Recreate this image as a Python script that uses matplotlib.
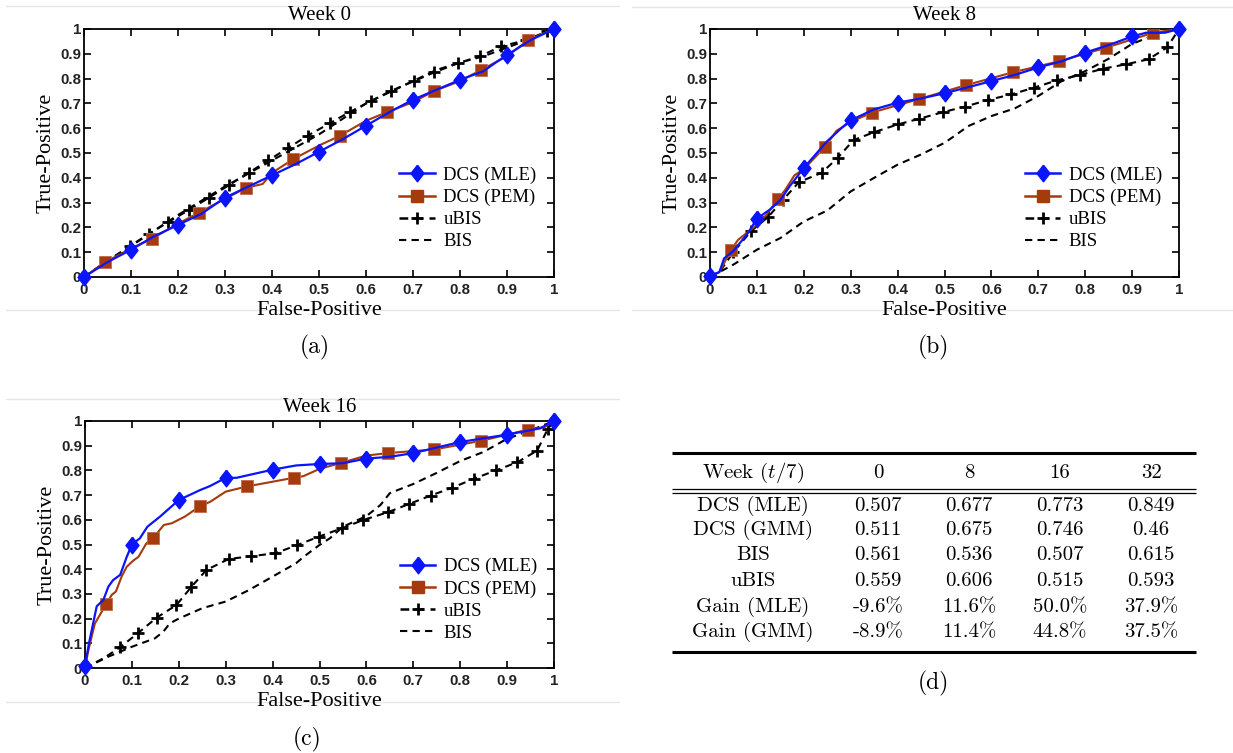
import matplotlib
matplotlib.use("Agg")
import matplotlib.pyplot as plt
from matplotlib.lines import Line2D

# ---------------- data ----------------
series_names = ["DCS (MLE)", "DCS (PEM)", "uBIS", "BIS"]
tick_vals = [0, 0.1, 0.2, 0.3, 0.4, 0.5, 0.6, 0.7, 0.8, 0.9, 1]
tick_labels = ["0", "0.1", "0.2", "0.3", "0.4", "0.5", "0.6", "0.7", "0.8", "0.9", "1"]
mle_marks = [0, 0.1, 0.2, 0.3, 0.4, 0.5, 0.6, 0.7, 0.8, 0.9, 1]
pem_marks = [0.045, 0.145, 0.245, 0.345, 0.445, 0.545, 0.645, 0.745, 0.845, 0.945]

# Week 0
w0_mle_fp = [0, 0.05, 0.1, 0.15, 0.2, 0.25, 0.3, 0.35, 0.4, 0.45, 0.5, 0.55, 0.6, 0.65, 0.7, 0.75, 0.8, 0.85, 0.88, 0.9, 0.95, 1]
w0_mle_tp = [0, 0.06, 0.11, 0.165, 0.21, 0.255, 0.32, 0.365, 0.41, 0.455, 0.505, 0.555, 0.61, 0.665, 0.715, 0.755, 0.795, 0.83, 0.87, 0.895, 0.955, 1]
w0_pem_fp = [0, 0.045, 0.1, 0.145, 0.2, 0.245, 0.3, 0.345, 0.38, 0.4, 0.445, 0.5, 0.545, 0.6, 0.645, 0.7, 0.745, 0.8, 0.845, 0.9, 0.945, 1]
w0_pem_tp = [0, 0.06, 0.115, 0.155, 0.215, 0.26, 0.315, 0.36, 0.375, 0.42, 0.475, 0.53, 0.57, 0.63, 0.665, 0.705, 0.75, 0.79, 0.835, 0.89, 0.955, 1]
w0_ubis_fp = [0, 0.05, 0.098, 0.139, 0.178, 0.223, 0.266, 0.308, 0.35, 0.392, 0.434, 0.476, 0.523, 0.565, 0.611, 0.653, 0.702, 0.745, 0.796, 0.842, 0.888, 0.94, 0.985, 1]
w0_ubis_tp = [0, 0.065, 0.125, 0.175, 0.22, 0.27, 0.32, 0.37, 0.42, 0.47, 0.52, 0.57, 0.62, 0.665, 0.71, 0.75, 0.79, 0.825, 0.862, 0.89, 0.93, 0.955, 0.99, 1]
w0_bis_fp = [0, 0.05, 0.1, 0.2, 0.3, 0.4, 0.5, 0.6, 0.7, 0.75, 0.8, 0.85, 0.9, 0.95, 1]
w0_bis_tp = [0, 0.065, 0.125, 0.25, 0.365, 0.47, 0.575, 0.7, 0.79, 0.835, 0.865, 0.89, 0.925, 0.96, 1]

# Week 8
w8_mle_fp = [0, 0.02, 0.03, 0.05, 0.08, 0.1, 0.13, 0.15, 0.17, 0.2, 0.25, 0.28, 0.3, 0.35, 0.4, 0.45, 0.5, 0.55, 0.6, 0.65, 0.7, 0.75, 0.8, 0.85, 0.9, 0.93, 0.97, 1]
w8_mle_tp = [0.005, 0.02, 0.075, 0.105, 0.175, 0.235, 0.275, 0.31, 0.366, 0.44, 0.548, 0.6, 0.632, 0.676, 0.703, 0.72, 0.741, 0.765, 0.79, 0.815, 0.845, 0.87, 0.905, 0.935, 0.97, 0.985, 0.985, 1]
w8_pem_fp = [0, 0.02, 0.045, 0.06, 0.1, 0.12, 0.145, 0.16, 0.18, 0.2, 0.245, 0.27, 0.3, 0.345, 0.445, 0.545, 0.645, 0.745, 0.845, 0.945, 1]
w8_pem_tp = [0, 0.02, 0.11, 0.15, 0.21, 0.25, 0.315, 0.35, 0.41, 0.435, 0.524, 0.59, 0.625, 0.663, 0.717, 0.773, 0.825, 0.87, 0.925, 0.985, 1]
w8_ubis_fp = [0, 0.02, 0.05, 0.087, 0.124, 0.156, 0.19, 0.238, 0.272, 0.306, 0.35, 0.4, 0.446, 0.497, 0.544, 0.593, 0.642, 0.69, 0.74, 0.788, 0.838, 0.888, 0.935, 0.975, 1]
w8_ubis_tp = [0, 0.02, 0.1, 0.184, 0.242, 0.312, 0.383, 0.42, 0.48, 0.552, 0.584, 0.615, 0.638, 0.665, 0.687, 0.714, 0.736, 0.763, 0.793, 0.814, 0.84, 0.858, 0.878, 0.926, 1]
w8_bis_fp = [0, 0.05, 0.1, 0.15, 0.2, 0.25, 0.3, 0.35, 0.4, 0.45, 0.5, 0.526, 0.55, 0.6, 0.65, 0.7, 0.75, 0.8, 0.85, 0.9, 0.96, 1]
w8_bis_tp = [0, 0.05, 0.11, 0.157, 0.224, 0.268, 0.345, 0.4, 0.453, 0.494, 0.541, 0.575, 0.608, 0.649, 0.68, 0.73, 0.79, 0.83, 0.88, 0.94, 0.985, 1]

# Week 16
w16_mle_fp = [0, 0.0085, 0.025, 0.039, 0.05, 0.06, 0.075, 0.089, 0.1, 0.117, 0.133, 0.16, 0.2, 0.245, 0.267, 0.3, 0.323, 0.4, 0.45, 0.5, 0.55, 0.6, 0.65, 0.7, 0.8, 0.9, 0.97, 1]
w16_mle_tp = [0.01, 0.1, 0.25, 0.275, 0.33, 0.356, 0.377, 0.45, 0.5, 0.525, 0.572, 0.613, 0.68, 0.72, 0.737, 0.77, 0.77, 0.803, 0.82, 0.826, 0.829, 0.848, 0.855, 0.87, 0.915, 0.945, 0.97, 1]
w16_pem_fp = [0, 0.007, 0.021, 0.045, 0.057, 0.066, 0.078, 0.089, 0.103, 0.114, 0.131, 0.145, 0.168, 0.185, 0.213, 0.245, 0.267, 0.3, 0.345, 0.445, 0.466, 0.5, 0.545, 0.6, 0.645, 0.745, 0.845, 0.945, 0.98, 1]
w16_pem_tp = [0, 0.07, 0.18, 0.258, 0.296, 0.31, 0.37, 0.41, 0.435, 0.45, 0.505, 0.525, 0.579, 0.586, 0.613, 0.655, 0.673, 0.714, 0.735, 0.77, 0.777, 0.806, 0.83, 0.86, 0.87, 0.885, 0.92, 0.965, 0.975, 1]
w16_ubis_fp = [0, 0.04, 0.075, 0.114, 0.153, 0.195, 0.227, 0.259, 0.306, 0.355, 0.405, 0.453, 0.499, 0.547, 0.593, 0.645, 0.691, 0.737, 0.783, 0.829, 0.876, 0.922, 0.964, 0.987, 1]
w16_ubis_tp = [0, 0.04, 0.084, 0.143, 0.204, 0.255, 0.329, 0.397, 0.441, 0.453, 0.464, 0.498, 0.532, 0.565, 0.599, 0.63, 0.664, 0.698, 0.73, 0.766, 0.8, 0.833, 0.88, 0.969, 1]
w16_bis_fp = [0, 0.05, 0.1, 0.149, 0.167, 0.181, 0.2, 0.25, 0.3, 0.35, 0.4, 0.45, 0.466, 0.5, 0.522, 0.55, 0.6, 0.63, 0.65, 0.7, 0.75, 0.8, 0.85, 0.9, 0.95, 0.98, 1]
w16_bis_tp = [0, 0.046, 0.086, 0.12, 0.147, 0.181, 0.2, 0.242, 0.269, 0.316, 0.37, 0.424, 0.45, 0.498, 0.525, 0.572, 0.615, 0.66, 0.708, 0.745, 0.79, 0.838, 0.875, 0.928, 0.962, 0.985, 1]

# Table (d)
table_header = ["Week ($t/7$)", "0", "8", "16", "32"]
table_rows = ["DCS (MLE)", "DCS (GMM)", "BIS", "uBIS", "Gain (MLE)", "Gain (GMM)"]
col_w0 = ["0.507", "0.511", "0.561", "0.559", "-9.6%", "-8.9%"]
col_w8 = ["0.677", "0.675", "0.536", "0.606", "11.6%", "11.4%"]
col_w16 = ["0.773", "0.746", "0.507", "0.515", "50.0%", "44.8%"]
col_w32 = ["0.849", "0.46", "0.615", "0.593", "37.9%", "37.5%"]

# ---------------- style ----------------
W, H = 1233, 753
plt.rcParams['mathtext.fontset'] = 'cm'
BLUE = "#0a14ff"
BROWN = "#a53a0c"
SERIF = "Liberation Serif"
SANS = "Liberation Sans"
CM = "cmr10"

diamond = [(0, 1), (0.78, 0), (0, -1), (-0.78, 0), (0, 1)]

fig = plt.figure(figsize=(W / 100, H / 100), dpi=100)

def px_axes(x0, y0, x1, y1):
    return fig.add_axes([x0 / W, 1 - y1 / H, (x1 - x0) / W, (y1 - y0) / H])

def idx_near(xs, marks):
    return [i for i, x in enumerate(xs) if any(abs(x - m) < 1e-9 for m in marks)]

def panel(ax, title, mle, pem, ubis, bis):
    ax.plot(bis[0], bis[1], color="black", lw=1.5, ls=(0, (3.5, 2.5)), zorder=2)
    ax.plot(ubis[0], ubis[1], color="black", lw=1.5, ls=(0, (3.5, 2.5)), marker="+",
            ms=8, mew=2.0, markevery=list(range(2, len(ubis[0]) - 1)), zorder=3)
    ax.plot(pem[0], pem[1], color=BROWN, lw=1.5, marker="s", ms=8.3, mfc=BROWN,
            mec="#c06a4a", mew=0.6, markevery=idx_near(pem[0], pem_marks), zorder=4)
    ax.plot(mle[0], mle[1], color=BLUE, lw=1.6, marker=diamond, ms=12, mfc=BLUE,
            mec=BLUE, markevery=idx_near(mle[0], mle_marks), zorder=5, clip_on=False)
    ax.set_xlim(0, 1)
    ax.set_ylim(0, 1)
    ax.set_xticks(tick_vals)
    ax.set_xticklabels(tick_labels)
    ax.set_yticks(tick_vals)
    ax.set_yticklabels(tick_labels)
    ax.tick_params(direction="in", length=5, width=1.2, top=True, right=True,
                   labelsize=10.8, pad=2)
    ax.tick_params(axis="x", pad=4)
    for lab in ax.get_xticklabels() + ax.get_yticklabels():
        lab.set_fontfamily(SANS)
        lab.set_fontweight("bold")
        lab.set_color("#222222")
    for sp in ax.spines.values():
        sp.set_linewidth(1.3)
    ax.set_title(title, fontfamily=SERIF, fontsize=15, pad=6.5)
    ax.set_xlabel("False-Positive", fontfamily=SERIF, fontsize=16, labelpad=3)
    ax.set_ylabel("True-Positive", fontfamily=SERIF, fontsize=16, labelpad=3)
    handles = [
        Line2D([], [], color=BLUE, lw=1.8, marker=diamond, ms=12, mfc=BLUE, mec=BLUE),
        Line2D([], [], color=BROWN, lw=1.8, marker="s", ms=8.3, mfc=BROWN, mec=BROWN),
        Line2D([], [], color="black", lw=1.8, ls=(0, (3.5, 2.5)), marker="+", ms=8, mew=2.0),
        Line2D([], [], color="black", lw=1.5, ls=(0, (3.5, 2.5))),
    ]
    ax.legend(handles, series_names, loc="upper left", bbox_to_anchor=(0.655, 0.475),
              frameon=False, numpoints=1, handlelength=1.9, handletextpad=0.45,
              labelspacing=0.26, borderaxespad=0,
              prop={"family": SERIF, "size": 13.5})

axA = px_axes(84, 29, 554, 277)
panel(axA, "Week 0", (w0_mle_fp, w0_mle_tp), (w0_pem_fp, w0_pem_tp),
      (w0_ubis_fp, w0_ubis_tp), (w0_bis_fp, w0_bis_tp))
axB = px_axes(710, 29, 1179, 277)
panel(axB, "Week 8", (w8_mle_fp, w8_mle_tp), (w8_pem_fp, w8_pem_tp),
      (w8_ubis_fp, w8_ubis_tp), (w8_bis_fp, w8_bis_tp))
axC = px_axes(85, 421, 554, 668)
panel(axC, "Week 16", (w16_mle_fp, w16_mle_tp), (w16_pem_fp, w16_pem_tp),
      (w16_ubis_fp, w16_ubis_tp), (w16_bis_fp, w16_bis_tp))

# overlay in pixel coordinates for separators, captions and the table
ov = fig.add_axes([0, 0, 1, 1], zorder=-1)
ov.set_xlim(0, W)
ov.set_ylim(H, 0)
ov.axis("off")
ov.patch.set_alpha(0)

sep_col = "#e6e6e6"
for (xa, xb, ya) in [(6, 619, 6), (6, 619, 310), (632, 1233, 7), (632, 1233, 310),
                     (6, 619, 399), (6, 619, 702)]:
    ov.plot([xa, xb], [ya, ya], color=sep_col, lw=1.0)

for (cx, cy, s) in [(315, 347, "(a)"), (933, 347, "(b)"), (307, 739, "(c)"), (933, 683, "(d)")]:
    ov.text(cx, cy, s, fontfamily=CM, fontsize=17, ha="center", va="center")

# table
tx0, tx1 = 672, 1196
ov.plot([tx0, tx1], [453, 453], color="black", lw=2.2, solid_capstyle="butt")
ov.plot([tx0, tx1], [489, 489], color="black", lw=0.9, solid_capstyle="butt")
ov.plot([tx0, tx1], [493, 493], color="black", lw=0.9, solid_capstyle="butt")
ov.plot([tx0, tx1], [652, 652], color="black", lw=2.2, solid_capstyle="butt")
col_x = [753, 878, 969, 1060, 1151]
for cx, s in zip(col_x, table_header):
    ov.text(cx, 473, s, fontfamily=CM, fontsize=15, ha="center", va="center")
row_y = [506, 530, 555, 581, 607, 632]
for i, ry in enumerate(row_y):
    cells = [table_rows[i], col_w0[i], col_w8[i], col_w16[i], col_w32[i]]
    for cx, s in zip(col_x, cells):
        ov.text(cx, ry, s, fontfamily=CM, fontsize=15, ha="center", va="center")

fig.savefig("out.png", dpi=100)
